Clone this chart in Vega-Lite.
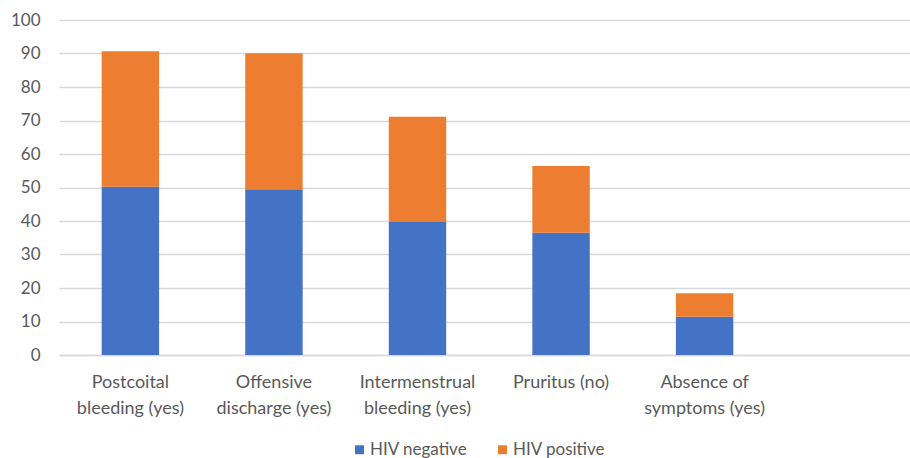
{
  "$schema": "https://vega.github.io/schema/vega-lite/v6.json",
  "width": 851,
  "height": 335,
  "autosize": {"type": "none"},
  "padding": {"left": 59, "top": 20, "right": 0, "bottom": 103},
  "background": "white",
  "config": {
    "view": {"stroke": null},
    "font": "Lato"
  },
  "data": {
    "values": [
      {"symptom": "Postcoital\nbleeding (yes)", "group": "HIV negative", "value": 50.2},
      {"symptom": "Postcoital\nbleeding (yes)", "group": "HIV positive", "value": 40.5},
      {"symptom": "Offensive\ndischarge (yes)", "group": "HIV negative", "value": 49.5},
      {"symptom": "Offensive\ndischarge (yes)", "group": "HIV positive", "value": 40.6},
      {"symptom": "Intermenstrual\nbleeding (yes)", "group": "HIV negative", "value": 39.7},
      {"symptom": "Intermenstrual\nbleeding (yes)", "group": "HIV positive", "value": 31.4},
      {"symptom": "Pruritus (no)", "group": "HIV negative", "value": 36.5},
      {"symptom": "Pruritus (no)", "group": "HIV positive", "value": 19.9},
      {"symptom": "Absence of\nsymptoms (yes)", "group": "HIV negative", "value": 11.4},
      {"symptom": "Absence of\nsymptoms (yes)", "group": "HIV positive", "value": 7.0}
    ]
  },
  "mark": {"type": "bar"},
  "encoding": {
    "x": {
      "field": "symptom",
      "type": "nominal",
      "sort": null,
      "scale": {
        "domain": ["Postcoital\nbleeding (yes)", "Offensive\ndischarge (yes)", "Intermenstrual\nbleeding (yes)", "Pruritus (no)", "Absence of\nsymptoms (yes)", " "],
        "paddingInner": 0.6,
        "paddingOuter": 0.264,
        "align": 0.563
      },
      "axis": {
        "title": null,
        "labelAngle": 0,
        "labelExpr": "split(datum.label, '\\n')",
        "labelFont": "Lato",
        "labelFontSize": 18,
        "labelColor": "#595959",
        "labelLineHeight": 26,
        "labelPadding": 18,
        "ticks": false,
        "domainColor": "#D9D9D9",
        "domainWidth": 1.3,
        "grid": false
      }
    },
    "y": {
      "field": "value",
      "type": "quantitative",
      "stack": "zero",
      "scale": {"domain": [0, 100], "nice": false},
      "axis": {
        "title": null,
        "values": [0, 10, 20, 30, 40, 50, 60, 70, 80, 90, 100],
        "labelFont": "Lato",
        "labelFontSize": 17,
        "labelColor": "#595959",
        "labelPadding": 19,
        "ticks": false,
        "domain": false,
        "gridColor": "#D9D9D9",
        "gridWidth": 1.3
      }
    },
    "color": {
      "field": "group",
      "type": "nominal",
      "scale": {"domain": ["HIV negative", "HIV positive"], "range": ["#4472C4", "#ED7D31"]},
      "legend": {
        "title": null,
        "orient": "none",
        "direction": "horizontal",
        "legendX": 292,
        "legendY": 421,
        "padding": 0,
        "symbolType": "square",
        "symbolSize": 80,
        "symbolStrokeWidth": 0,
        "symbolOpacity": 1,
        "labelFont": "Lato",
        "labelFontSize": 17,
        "labelColor": "#595959",
        "labelOffset": 2,
        "columnPadding": 26
      }
    },
    "order": {"field": "group", "sort": "ascending"}
  }
}
